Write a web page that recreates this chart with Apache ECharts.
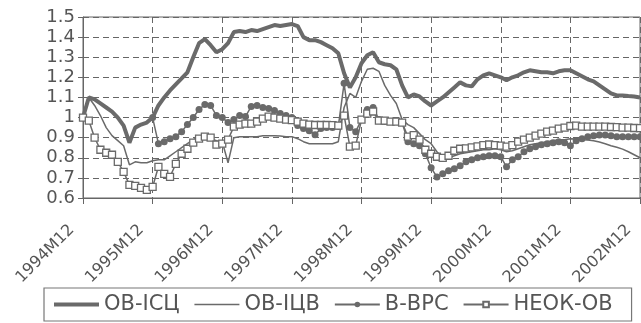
<!DOCTYPE html>
<html><head><meta charset="utf-8">
<script src="https://cdn.jsdelivr.net/npm/echarts@6/dist/echarts.min.js"></script>
<style>html,body{margin:0;padding:0;background:#fff}#c{width:641px;height:323px}</style>
</head><body><div id="c"></div>
<script>
// Category labels: 1994M12 then monthly through 2002M12
const firstLabel = "1994M12";
const years = [1995, 1996, 1997, 1998, 1999, 2000, 2001, 2002];
const months = ["01","02","03","04","05","06","07","08","09","10","11","12"];
const categories = [firstLabel];
years.forEach(y => months.forEach(m => categories.push(y + "M" + m)));

const seriesNames = ["ОВ-ІСЦ", "ОВ-ІЦВ", "В-ВРС", "НЕОК-ОВ"];

const obIsc = [
  1.00,
  1.10,1.09,1.07,1.05,1.03,1.00,0.96,0.875,0.95,0.965,0.975,1.00,
  1.06,1.10,1.135,1.165,1.195,1.225,1.30,1.37,1.39,1.36,1.325,1.34,
  1.37,1.425,1.43,1.425,1.435,1.43,1.44,1.45,1.46,1.455,1.46,1.465,
  1.455,1.40,1.385,1.385,1.375,1.36,1.345,1.32,1.22,1.15,1.20,1.27,
  1.31,1.325,1.275,1.265,1.26,1.24,1.16,1.10,1.115,1.105,1.08,1.06,
  1.08,1.10,1.125,1.15,1.175,1.16,1.155,1.19,1.21,1.22,1.21,1.20,
  1.185,1.20,1.21,1.225,1.235,1.23,1.225,1.225,1.22,1.23,1.235,1.235,
  1.22,1.205,1.19,1.18,1.16,1.14,1.12,1.11,1.11,1.107,1.105,1.10
];

const obIcv = [
  1.00,
  1.10,1.06,1.01,0.95,0.91,0.885,0.86,0.765,0.78,0.775,0.775,0.785,
  0.79,0.79,0.81,0.83,0.85,0.87,0.89,0.905,0.905,0.895,0.885,0.88,
  0.775,0.90,0.905,0.905,0.905,0.905,0.91,0.91,0.91,0.908,0.905,0.905,
  0.895,0.88,0.87,0.87,0.87,0.87,0.87,0.88,1.05,1.12,1.10,1.18,
  1.24,1.245,1.23,1.16,1.11,1.07,0.99,0.965,0.95,0.92,0.89,0.87,
  0.83,0.80,0.80,0.81,0.82,0.825,0.83,0.835,0.84,0.84,0.845,0.84,
  0.83,0.835,0.845,0.855,0.865,0.87,0.875,0.88,0.885,0.89,0.89,0.895,
  0.893,0.89,0.888,0.885,0.878,0.87,0.86,0.852,0.843,0.83,0.815,0.80
];

const vVrs = [
  null,
  null,null,null,null,null,null,null,null,null,null,null,1.00,
  0.87,0.88,0.895,0.905,0.93,0.965,1.00,1.04,1.065,1.06,1.01,1.00,
  0.975,0.99,1.01,1.005,1.055,1.06,1.05,1.045,1.035,1.02,1.01,1.00,
  0.96,0.945,0.935,0.915,0.945,0.95,0.95,0.955,1.17,0.95,0.93,0.99,
  1.04,1.05,0.99,0.98,0.98,0.98,0.975,0.88,0.87,0.86,0.82,0.75,
  0.705,0.72,0.735,0.745,0.76,0.78,0.79,0.80,0.805,0.81,0.81,0.805,
  0.755,0.79,0.805,0.83,0.845,0.855,0.865,0.87,0.875,0.88,0.875,0.86,
  0.885,0.895,0.905,0.91,0.913,0.913,0.91,0.905,0.905,0.905,0.905,0.905
];

const neokOv = [
  1.00,
  0.985,0.90,0.84,0.825,0.815,0.78,0.73,0.665,0.66,0.65,0.64,0.655,
  0.755,0.72,0.705,0.77,0.82,0.845,0.875,0.895,0.905,0.90,0.865,0.87,
  0.89,0.955,0.965,0.97,0.97,0.98,0.995,1.005,1.00,0.995,0.99,0.987,
  0.98,0.97,0.965,0.963,0.963,0.963,0.962,0.96,1.01,0.855,0.86,0.99,
  1.02,1.03,0.985,0.985,0.98,0.98,0.975,0.905,0.913,0.89,0.84,0.82,
  0.805,0.80,0.81,0.835,0.845,0.847,0.852,0.857,0.863,0.866,0.863,0.86,
  0.855,0.863,0.88,0.89,0.90,0.91,0.92,0.93,0.935,0.945,0.95,0.958,
  0.96,0.955,0.955,0.955,0.955,0.955,0.953,0.952,0.95,0.95,0.948,0.947
];

const yMin = 0.6, yMax = 1.5, yStep = 0.1;

const gray = '#666';
const lineGray = '#6a6a6a';
const textGray = '#555';
const font = 'DejaVu Sans';
const hidden = {color: 'transparent', borderColor: 'transparent', borderWidth: 0};

const chart = echarts.init(document.getElementById('c'), null, {renderer: 'canvas'});
chart.setOption({
  animation: false,
  backgroundColor: '#fff',
  textStyle: {fontFamily: font},
  grid: {left: 83, right: 1, top: 17, bottom: 125, show: true, borderColor: gray, borderWidth: 1, backgroundColor: 'transparent'},
  legend: {
    left: 44, top: 288,
    padding: [6, 19, 6, 8],
    itemGap: 14, itemWidth: 45, itemHeight: 7,
    backgroundColor: '#fff',
    borderColor: '#777', borderWidth: 1.2,
    textStyle: {fontSize: 21, color: textGray, fontFamily: font},
    data: [
      {name: seriesNames[0], itemStyle: hidden, lineStyle: {width: 4, color: lineGray}},
      {name: seriesNames[1], itemStyle: hidden, lineStyle: {width: 1.5, color: lineGray}},
      {name: seriesNames[2]},
      {name: seriesNames[3]}
    ]
  },
  xAxis: {
    type: 'category', data: categories, boundaryGap: false,
    axisLine: {lineStyle: {color: gray, width: 1}},
    axisTick: {show: true, interval: 11, length: 6, lineStyle: {color: gray}},
    axisLabel: {interval: 11, rotate: 45, margin: 18, padding: [0, 16, 0, 0], fontSize: 16, color: textGray, fontFamily: font},
    splitLine: {show: true, interval: 11, lineStyle: {color: gray, type: [6, 4], width: 1}}
  },
  yAxis: {
    type: 'value', min: yMin, max: yMax, interval: yStep,
    axisLine: {show: true, lineStyle: {color: gray, width: 1}},
    axisTick: {show: true, length: 5, lineStyle: {color: gray}},
    axisLabel: {margin: 8, fontSize: 18, color: textGray, fontFamily: font},
    splitLine: {show: true, lineStyle: {color: gray, type: [6, 4], width: 1}}
  },
  series: [
    {name: seriesNames[0], type: 'line', data: obIsc, symbol: 'none', lineStyle: {color: lineGray, width: 4}, itemStyle: {color: lineGray}, z: 3},
    {name: seriesNames[1], type: 'line', data: obIcv, symbol: 'none', lineStyle: {color: lineGray, width: 1.5}, itemStyle: {color: lineGray}, z: 2},
    {name: seriesNames[2], type: 'line', data: vVrs, symbol: 'circle', symbolSize: 7, showAllSymbol: true, connectNulls: false,
     lineStyle: {color: lineGray, width: 1.5}, itemStyle: {color: lineGray, borderWidth: 0}, z: 4},
    {name: seriesNames[3], type: 'line', data: neokOv, symbol: 'rect', symbolSize: 7, showAllSymbol: true,
     lineStyle: {color: lineGray, width: 1.5}, itemStyle: {color: '#fff', borderColor: lineGray, borderWidth: 1.3}, z: 5}
  ]
});
</script></body></html>
